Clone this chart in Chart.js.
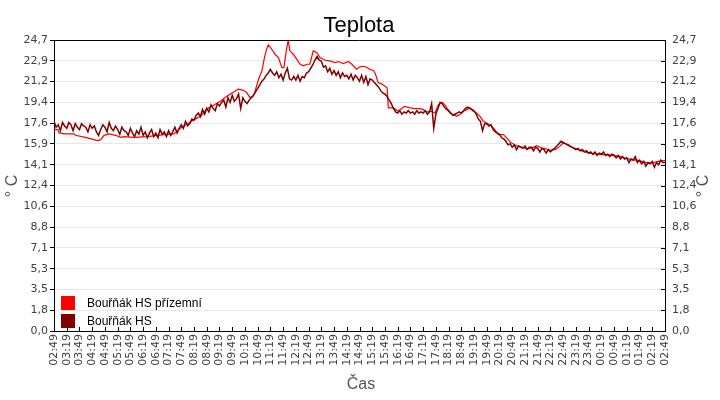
<!DOCTYPE html>
<html><head><meta charset="utf-8">
<script src="https://cdn.jsdelivr.net/npm/chart.js@4"></script>
<style>html,body{margin:0;padding:0;background:#fff}#wrap{width:720px;height:400px}</style>
</head><body><div id="wrap"><canvas id="c" width="720" height="400"></canvas></div>
<script>
const chartTitle = 'Teplota';
const xTitle = 'Čas';
const yTitle = '° C';
const seriesNames = ['Bouřňák HS přízemní', 'Bouřňák HS'];
const seriesColors = ['#ff0000', '#800000'];
const startMinutes = 2 * 60 + 49; // 02:49
const yTickLabels = ['0,0','1,8','3,5','5,3','7,1','8,8','10,6','12,4','14,1','15,9','17,6','19,4','21,2','22,9','24,7'];
const yMax = 24.7;

// minutes since 02:49 / temperature for "Bouřňák HS přízemní"
const redTimes = [0,9,12,24,47,51,79,102,110,118,130,145,157,165,189,220,259,283,299,314,330,346,358,365,379,391,403,415,427,434,446,454,462,470,474,482,490,496,501,505,513,521,529,537,542,544,548,552,556,564,572,580,588,596,603,611,619,627,639,650,662,670,682,694,702,713,721,729,737,745,753,758,764,772,780,785,788,800,811,823,827,839,851,863,870,878,890,898,906,914,921,933,941,949,957,965,973,980,988,996,1004,1012,1020,1032,1039,1047,1059,1067,1075,1089,1102,1114,1126,1138,1149,1161,1169,1181,1192,1200,1212,1220,1232,1247,1259,1275,1291,1306,1322,1334,1346,1361,1377,1393,1409,1424,1440];
const redValues = [17.09,17.09,16.81,16.73,16.73,16.61,16.39,16.16,16.24,16.61,16.73,16.61,16.44,16.50,16.44,16.50,16.67,16.73,17.24,17.58,17.94,18.22,18.79,18.94,19.22,19.47,19.81,20.09,20.38,20.52,20.43,20.24,19.81,19.96,20.38,21.37,22.08,23.21,23.92,24.29,23.92,23.49,23.21,22.36,22.36,22.93,23.92,24.68,23.78,23.49,23.07,22.64,22.51,22.64,22.64,23.78,23.64,23.21,22.98,22.93,22.79,22.87,22.70,22.87,22.64,22.22,22.42,22.47,22.39,22.19,22.11,21.77,21.06,20.98,20.77,20.64,18.94,18.94,18.65,18.99,19.07,18.94,18.88,18.88,18.79,18.60,18.65,18.51,19.22,19.41,19.22,18.51,18.37,18.22,18.37,18.65,18.79,18.94,18.65,18.51,18.22,17.80,17.66,17.37,17.09,16.67,16.67,16.39,16.05,15.73,15.62,15.45,15.54,15.73,15.54,15.45,15.33,15.39,15.67,15.96,15.82,15.62,15.45,15.25,15.11,15.03,14.97,14.97,14.88,14.82,14.68,14.54,14.48,14.31,14.26,14.40,14.48];

// "Bouřňák HS": one reading every 5 minutes from 02:49
const darkStep = 5;
const darkValues = [
17.8,17.3,17.5,17.0,17.7,17.4, 17.2,17.7,17.5,17.0,17.6,17.3, 17.1,17.6,17.4,17.3,16.9,17.5, 17.2,17.4,16.9,16.6,17.1,17.5,
17.3,16.9,17.7,17.2,17.0,17.4, 17.1,16.7,17.3,17.0,16.9,16.6, 17.2,16.8,16.5,17.0,16.7,17.3, 16.6,16.9,16.4,16.8,17.1,16.5,
16.8,16.4,17.1,16.7,16.9,16.5, 17.0,16.6,16.9,17.3,16.8,17.2, 17.5,17.2,17.8,17.4,17.6,18.0, 17.9,18.3,18.5,18.2,18.8,18.4,
18.9,18.6,19.2,18.9,18.7,19.3, 19.1,19.4,19.6,19.0,19.8,19.4, 20.0,19.5,19.7,20.1,18.9,19.8, 19.5,19.3,19.6,19.8,20.0,20.3,
20.6,20.9,21.2,21.4,21.7,21.9, 22.2,21.9,21.7,22.0,21.5,21.8, 21.3,21.9,22.3,21.4,21.3,21.6, 21.3,21.7,21.2,21.6,21.5,21.9,
22.0,22.3,22.6,23.0,23.3,23.0, 22.9,22.4,22.5,22.0,22.3,21.8, 22.1,21.7,22.0,21.5,21.9,21.6, 21.7,21.4,21.8,21.3,21.7,21.5,
21.2,21.7,21.1,21.6,20.9,21.4, 21.3,21.1,20.9,20.7,20.4,20.2, 20.1,19.9,19.6,19.3,18.9,18.6, 18.5,18.7,18.4,18.6,18.5,18.7,
18.5,18.6,18.4,18.7,18.5,18.6, 18.5,18.7,18.4,18.6,19.3,17.2, 18.4,18.9,19.4,19.3,19.0,18.8, 18.7,18.5,18.3,18.4,18.5,18.6,
18.5,18.7,18.9,19.0,18.9,18.8, 18.7,18.4,18.0,17.8,17.0,17.6, 17.6,17.4,17.5,17.1,16.9,16.8, 16.7,16.4,16.3,16.1,15.8,15.9,
15.6,15.8,15.4,15.7,15.6,15.5, 15.7,15.4,15.6,15.6,15.3,15.6, 15.5,15.2,15.5,15.4,15.1,15.4, 15.2,15.4,15.5,15.7,15.9,16.1,
16.0,15.9,15.8,15.7,15.6,15.5, 15.4,15.5,15.3,15.4,15.2,15.3, 15.1,15.2,15.0,15.2,14.9,15.1, 15.0,15.2,14.9,15.0,14.8,15.0,
14.9,14.7,14.9,14.6,14.8,14.6, 14.7,14.3,14.6,14.5,14.8,14.3, 14.5,14.2,14.4,14.0,14.3,14.2, 14.4,13.9,14.3,14.1,14.5,14.3,
14.3];

const redData = redTimes.map((t, i) => ({x: t, y: redValues[i]}));
const darkData = darkValues.map((v, i) => ({x: i * darkStep, y: v}));

function fmtTime(m) {
  const tot = (startMinutes + m) % 1440;
  const h = Math.floor(tot / 60), mm = tot % 60;
  return String(h).padStart(2, '0') + ':' + String(mm).padStart(2, '0');
}
const yTickValues = yTickLabels.map((_, i) => i * yMax / (yTickLabels.length - 1));

const decor = {
  id: 'decor',
  afterDraw(chart) {
    const ctx = chart.ctx, a = chart.chartArea;
    ctx.save();
    ctx.strokeStyle = '#000'; ctx.lineWidth = 1;
    ctx.beginPath(); ctx.moveTo(a.left, a.top + 0.5); ctx.lineTo(a.right, a.top + 0.5); ctx.stroke();
    const xs = chart.scales.x;
    ctx.beginPath();
    xs.ticks.forEach(t => { const px = Math.round(xs.getPixelForValue(t.value)) + 0.5; ctx.moveTo(px, a.bottom); ctx.lineTo(px, a.bottom - 4); });
    const ys = chart.scales.y2;
    yTickValues.forEach(v => { const py = Math.round(ys.getPixelForValue(v)) + 0.5; ctx.moveTo(a.right, py); ctx.lineTo(a.right - 4, py); });
    ctx.stroke();
    ctx.fillStyle = '#000'; ctx.font = '22px "Liberation Sans", Arial, sans-serif';
    ctx.textAlign = 'center'; ctx.textBaseline = 'alphabetic';
    ctx.fillText(chartTitle, 359, 32);
    ctx.fillStyle = '#555'; ctx.font = '16px "Liberation Sans", Arial, sans-serif';
    ctx.textBaseline = 'middle';
    ctx.fillText(xTitle, 361, 385);
    [13, 704].forEach(x => {
      ctx.save(); ctx.translate(x, 186); ctx.rotate(-Math.PI / 2);
      ctx.fillText(yTitle, 0, 0); ctx.restore();
    });
    ctx.font = '12px "Liberation Sans", Arial, sans-serif';
    ctx.textAlign = 'left';
    seriesNames.forEach((n, i) => {
      const y = 296 + i * 18;
      ctx.fillStyle = seriesColors[i]; ctx.fillRect(61, y, 14, 14);
      ctx.fillStyle = '#000'; ctx.fillText(n, 87, y + 7.5);
    });
    ctx.restore();
  }
};

new Chart(document.getElementById('c'), {
  type: 'line',
  data: {
    datasets: [
      { label: seriesNames[0], data: redData, borderColor: seriesColors[0], borderWidth: 1.2, pointRadius: 0, tension: 0, order: 1, yAxisID: 'y' },
      { label: seriesNames[1], data: darkData, borderColor: seriesColors[1], borderWidth: 1.5, pointRadius: 0, tension: 0, order: 0, yAxisID: 'y' }
    ]
  },
  options: {
    responsive: false, animation: false,
    layout: { padding: { top: 40, left: 0, right: 0, bottom: 0 } },
    plugins: { legend: { display: false }, title: { display: false }, tooltip: { enabled: false } },
    scales: {
      x: {
        type: 'linear', min: 0, max: 1440,
        afterBuildTicks: s => { const t = []; for (let m = 0; m <= 1440; m += 30) t.push({value: m}); s.ticks = t; },
        afterFit: s => { s.height = 69; },
        grid: { display: false, drawTicks: false },
        border: { color: '#000', width: 1 },
        ticks: { autoSkip: false, maxRotation: 90, minRotation: 90, padding: 3, color: '#404040',
                 font: { family: 'DejaVu Sans', size: 11 }, callback: v => fmtTime(v) }
      },
      y: {
        position: 'left', min: 0, max: yMax,
        afterBuildTicks: s => { s.ticks = yTickValues.map(v => ({value: v})); },
        afterFit: s => { s.width = 54; },
        grid: { color: '#e8e8e8', lineWidth: 1, tickLength: 4, tickColor: '#000' },
        border: { color: '#000', width: 1 },
        ticks: { padding: 2, color: '#404040', font: { family: 'DejaVu Sans', size: 11 },
                 callback: (v, i) => yTickLabels[i] }
      },
      y2: {
        position: 'right', min: 0, max: yMax,
        afterBuildTicks: s => { s.ticks = yTickValues.map(v => ({value: v})); },
        afterFit: s => { s.width = 55; },
        grid: { drawOnChartArea: false, drawTicks: false },
        border: { color: '#000', width: 1 },
        ticks: { padding: 7, color: '#404040', font: { family: 'DejaVu Sans', size: 11 },
                 callback: (v, i) => yTickLabels[i] }
      }
    }
  },
  plugins: [decor]
});
</script>
</body></html>
